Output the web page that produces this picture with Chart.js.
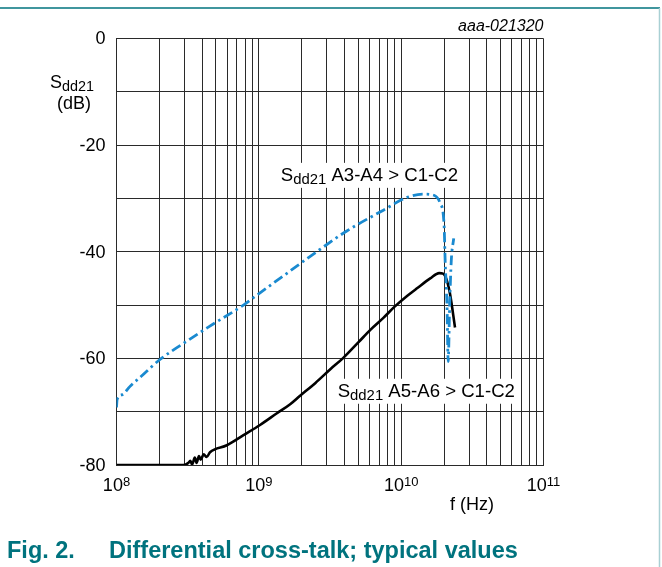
<!DOCTYPE html>
<html>
<head>
<meta charset="utf-8">
<script src="https://cdn.jsdelivr.net/npm/chart.js@4.4.1/dist/chart.umd.min.js"></script>
<style>
    html, body { margin: 0; padding: 0; background: #fff; }
    canvas { display: block; }
</style>
</head>
<body>
<canvas id="chart" width="662" height="567"></canvas>
<script>
// values (f in Hz, S in dB)
const a34Freq = [1.0e8, 1.01e8, 1.1e8, 1.24e8, 1.5e8, 2.0e8, 2.95e8, 4.5e8, 7.8e8, 9.4e8,
                 1.66e9, 2.55e9, 4.15e9, 7.5e9, 1.1e10, 1.43e10, 1.7e10, 1.88e10, 2.0e10,
                 2.04e10, 2.1e10, 2.14e10, 2.19e10, 2.25e10, 2.34e10];
const a34Db = [-69.2, -67.7, -66.8, -65.3, -63.3, -60.3, -57.2, -54.0, -50.0, -48.4,
               -43.6, -40.0, -36.1, -32.2, -29.8, -29.2, -29.4, -30.9, -34.7,
               -42.2, -50.3, -60.6, -50.3, -41.6, -37.5];

const a56Freq = [1.0e8, 2.95e8, 3.2e8, 3.3e8, 3.4e8, 3.55e8, 3.65e8, 3.8e8, 3.9e8, 4.1e8,
                 4.3e8, 4.54e8, 5.96e8, 7.8e8, 1.02e9, 1.34e9, 1.66e9, 1.95e9, 2.5e9,
                 3.22e9, 3.89e9, 5.0e9, 6.1e9, 7.5e9, 9.0e9, 1.1e10, 1.3e10, 1.6e10,
                 1.85e10, 1.97e10, 2.07e10, 2.2e10, 2.39e10];
const a56Db = [-80.0, -80.0, -79.6, -79.2, -79.9, -78.6, -79.6, -78.3, -79.0, -78.0,
               -78.5, -77.6, -76.3, -74.4, -72.5, -70.3, -68.6, -67.0, -64.6,
               -61.9, -60.0, -57.0, -54.6, -52.4, -50.3, -48.3, -46.8, -45.0,
               -44.0, -44.1, -45.0, -47.8, -54.2];

// tick labels
const yLabelValues = [0, -20, -40, -60, -80];
const yLabels = ["0", "-20", "-40", "-60", "-80"];
const xLabelExps = [8, 9, 10, 11];
const xLabelBase = "10";

// vertical grid at 1..9 x every decade
const xGridValues = [];
for (let e = 8; e <= 10; e++) {
    for (let m = 1; m <= 9; m++) xGridValues.push(m * Math.pow(10, e));
}
xGridValues.push(1e11);

const FONT = 'Arial, "Liberation Sans", sans-serif';
const TEAL = "#00737e";
const BLUE = "#1a8ad0";
const GRID = "#2a2a2a";

function toPoints(xs, ys) {
    return xs.map((x, i) => ({ x: x, y: ys[i] }));
}

// draws "S" + subscript "dd21" + rest, left aligned at x
function drawSubText(ctx, x, y, rest, size) {
    ctx.textAlign = "left";
    ctx.textBaseline = "alphabetic";
    ctx.font = size + "px " + FONT;
    ctx.fillText("S", x, y);
    let w = ctx.measureText("S").width;
    ctx.font = (size * 0.8) + "px " + FONT;
    ctx.fillText("dd21", x + w, y + 3.5);
    w += ctx.measureText("dd21").width;
    if (rest) {
        ctx.font = size + "px " + FONT;
        ctx.fillText(rest, x + w, y);
        w += ctx.measureText(rest).width;
    }
    return w;
}

function measureSubText(ctx, rest, size) {
    ctx.font = size + "px " + FONT;
    let w = ctx.measureText("S").width + ctx.measureText(rest).width;
    ctx.font = (size * 0.8) + "px " + FONT;
    return w + ctx.measureText("dd21").width;
}

const curveLabels = [
    { text: " A3-A4 > C1-C2", at: { x: 1.426e9, y: -26.7 } },
    { text: " A5-A6 > C1-C2", at: { x: 3.58e9, y: -67.2 } }
];

const textPlugin = {
    id: "texts",
    beforeDraw(chart) {
        const ctx = chart.ctx;
        ctx.save();
        // figure frame
        ctx.strokeStyle = TEAL;
        ctx.lineWidth = 1.5;
        ctx.beginPath();
        ctx.moveTo(0, 8);
        ctx.lineTo(660, 8);
        ctx.stroke();
        ctx.strokeStyle = "#a9d0d4";
        ctx.lineWidth = 1.5;
        ctx.beginPath();
        ctx.moveTo(659.5, 8);
        ctx.lineTo(659.5, 567);
        ctx.stroke();
        ctx.restore();
    },
    afterDatasetsDraw(chart) {
        const ctx = chart.ctx;
        const xs = chart.scales.x;
        const ys = chart.scales.y;
        const area = chart.chartArea;
        ctx.save();
        ctx.fillStyle = "#000";

        // y tick labels
        ctx.font = "18px " + FONT;
        ctx.textAlign = "right";
        ctx.textBaseline = "middle";
        yLabelValues.forEach((v, i) => {
            ctx.fillText(yLabels[i], area.left - 11, ys.getPixelForValue(v) + 1);
        });

        // x tick labels 10^n
        ctx.textBaseline = "alphabetic";
        xLabelExps.forEach(e => {
            const px = xs.getPixelForValue(Math.pow(10, e));
            ctx.font = "18px " + FONT;
            const wb = ctx.measureText(xLabelBase).width;
            ctx.font = "13px " + FONT;
            const we = ctx.measureText(String(e)).width;
            const left = px - (wb + we) / 2;
            ctx.textAlign = "left";
            ctx.font = "18px " + FONT;
            ctx.fillText(xLabelBase, left, area.bottom + 26);
            ctx.font = "13px " + FONT;
            ctx.fillText(String(e), left + wb, area.bottom + 21);
        });

        // axis titles
        ctx.font = "18px " + FONT;
        ctx.textAlign = "center";
        ctx.fillText("f (Hz)", 472, area.bottom + 45);
        drawSubText(ctx, 50, 87.5, "", 18);
        ctx.font = "18px " + FONT;
        ctx.textAlign = "center";
        ctx.fillText("(dB)", 74, 109);

        ctx.font = "italic 16px " + FONT;
        ctx.textAlign = "right";
        ctx.fillText("aaa-021320", area.right, 31);

        // curve labels with white box
        curveLabels.forEach(l => {
            const x = xs.getPixelForValue(l.at.x);
            const y = ys.getPixelForValue(l.at.y);
            const w = measureSubText(ctx, l.text, 18.6);
            ctx.fillStyle = "#fff";
            ctx.fillRect(x - 8, y - 18, w + 14, 25);
            ctx.fillStyle = "#000";
            drawSubText(ctx, x, y, l.text, 18.6);
        });

        // caption
        ctx.fillStyle = TEAL;
        ctx.font = "bold 23.5px " + FONT;
        ctx.textAlign = "left";
        ctx.fillText("Fig. 2.", 7, 558);
        ctx.fillText("Differential cross-talk; typical values", 109, 558);
        ctx.restore();
    }
};

const canvas = document.getElementById("chart");
const chart = new Chart(canvas.getContext("2d"), {
    type: "scatter",
    data: {
        datasets: [
            {
                label: "Sdd21 A3-A4 > C1-C2",
                data: toPoints(a34Freq, a34Db),
                showLine: true,
                borderColor: BLUE,
                borderWidth: 2.8,
                borderDash: [10, 4, 2.5, 4],
                pointRadius: 0,
                cubicInterpolationMode: "monotone",
                fill: false
            },
            {
                label: "Sdd21 A5-A6 > C1-C2",
                data: toPoints(a56Freq, a56Db),
                showLine: true,
                borderColor: "#000",
                borderWidth: 2.6,
                pointRadius: 0,
                cubicInterpolationMode: "monotone",
                fill: false
            }
        ]
    },
    options: {
        responsive: false,
        animation: false,
        layout: {
            padding: { left: 116.5, top: 38.5, right: 118.5, bottom: 102 }
        },
        plugins: {
            legend: { display: false },
            tooltip: { enabled: false }
        },
        scales: {
            x: {
                type: "logarithmic",
                min: 1e8,
                max: 1e11,
                afterBuildTicks: scale => {
                    scale.ticks = xGridValues.map(v => ({ value: v }));
                },
                ticks: { display: false },
                grid: { color: GRID, lineWidth: 1, drawTicks: false },
                border: { color: GRID, width: 1 }
            },
            y: {
                type: "linear",
                min: -80,
                max: 0,
                ticks: { display: false, stepSize: 10 },
                grid: { color: GRID, lineWidth: 1, drawTicks: false },
                border: { color: GRID, width: 1 }
            }
        }
    },
    plugins: [textPlugin]
});
</script>
</body>
</html>
